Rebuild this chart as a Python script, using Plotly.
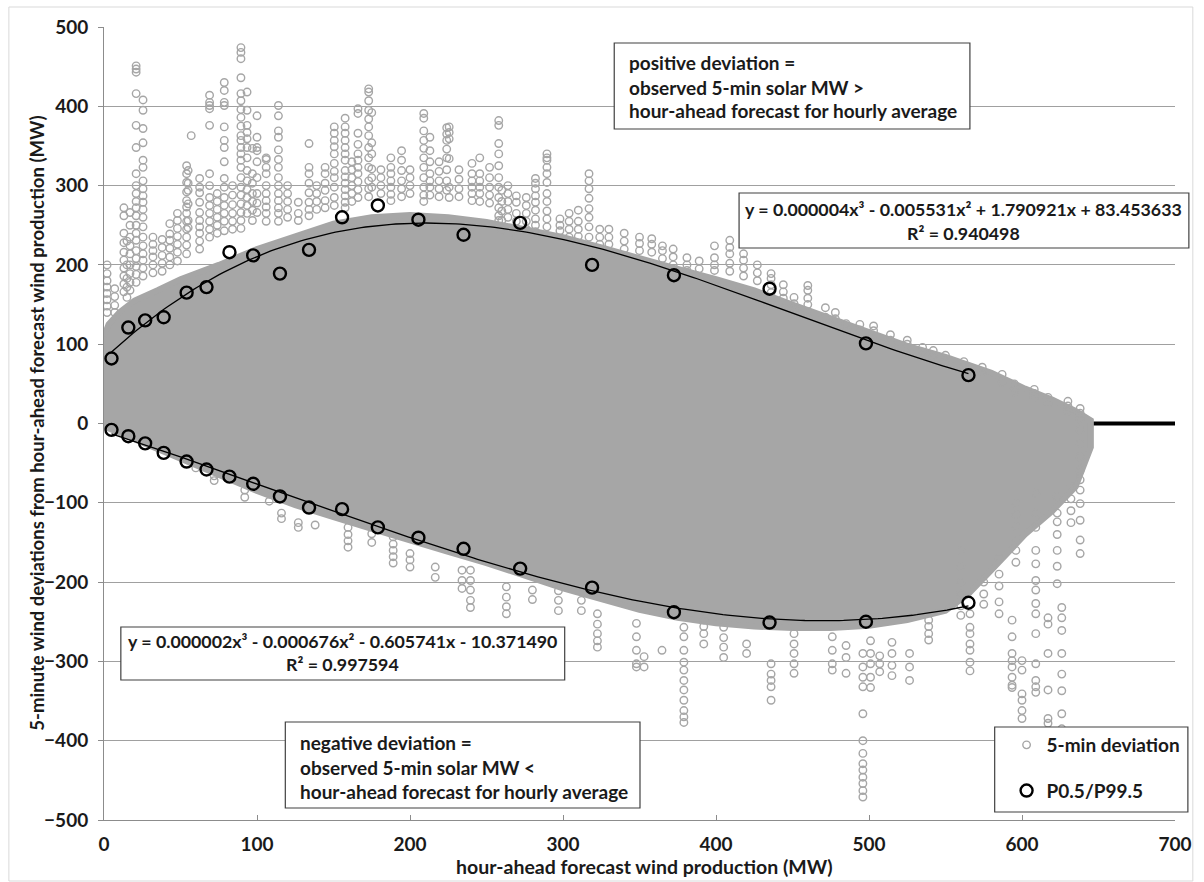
import numpy as np
import plotly.graph_objects as go

# ---------------------------------------------------------------------------
# P0.5 / P99.5 percentile points for each hour-ahead forecast bin (MW)
p_x = [4.9, 15.9, 26.9, 39, 54, 67, 82, 97.5, 115, 134, 155.6, 179,
       205.5, 235, 272, 319, 372.5, 435, 498, 565]
p_hi = [82, 121, 130, 134, 165, 172, 216, 212, 189, 219, 260, 275,
        257, 238, 253, 200, 187, 170, 101, 61]
p_lo = [-8, -16, -25, -37, -48, -58, -67, -76, -92, -106, -108, -131,
        -144, -158, -183, -207, -238, -251, -250, -226]

# Dense body of the 5-min deviation cloud: upper and lower edges (MW)
core_x = [0, 3, 10, 20, 35, 50, 75, 100, 125, 150, 175, 200, 225, 250, 275,
          300, 325, 350, 375, 400, 425, 450, 475, 500, 525, 550, 565, 580,
          602, 620, 635, 645]
core_hi = [110, 125, 140, 155, 168, 182, 200, 220, 236, 252, 260, 263, 260,
           254, 245, 235, 222, 208, 195, 182, 168, 150, 132, 114, 98, 84,
           74, 64, 44, 30, 16, 4]
core_lo = [-2, -6, -12, -20, -33, -45, -65, -85, -103, -118, -133, -148,
           -162, -176, -192, -208, -222, -235, -245, -252, -256, -258,
           -258, -255, -248, -236, -215, -185, -140, -110, -80, -30]

# Sparse 5-min deviations outside the dense body, grouped by forecast level
pos_streaks = [
    (2, [200, 189, 180, 172, 164, 156, 148, 140]),
    (7, [170, 160, 149, 140]),
    (13, [272, 262, 240, 228, 216, 206, 196, 186, 176, 166]),
    (15, [230, 200, 183, 172, 159]),
    (17, [266, 250, 235, 224, 214, 200, 189, 178, 168]),
    (21, [451, 447, 443, 416, 376, 348, 315, 300, 290, 280, 272, 262, 250,
          240, 231, 218, 208, 198, 188, 178]),
    (25.5, [408, 395, 372, 354, 332, 323, 306, 296, 287, 279, 270, 260, 248,
            235, 224, 214, 206, 196, 186]),
    (32, [235, 226, 218, 210, 200, 190]),
    (38, [232, 222, 212, 202, 192]),
    (43, [252, 239, 231, 221, 210, 200]),
    (48, [265, 256, 246, 236, 226, 216, 205]),
    (54, [325, 315, 304, 292, 281, 273, 265, 255, 245, 235, 225, 214]),
    (55, [319, 303, 294, 277, 256, 247]),
    (57, [363]),
    (62.5, [309, 298, 291, 279, 266, 256, 248, 240, 230, 220]),
    (69, [414, 405, 401, 397, 376, 315, 300, 285, 275, 265, 255, 245, 235]),
    (74, [290, 280, 270, 260, 250, 240]),
    (78.6, [430, 420, 405, 401, 374, 357, 348, 330, 309, 298, 285, 275, 265,
            255, 243]),
    (84, [300, 288, 276, 265, 255, 245]),
    (89.5, [474, 468, 460, 436, 416, 407, 396, 386, 375, 363, 357, 348, 340,
            332, 323, 310, 298, 288, 277, 266, 256, 246]),
    (93.5, [418, 395, 376, 367, 359, 348, 335, 319, 306, 295, 285, 275, 265]),
    (97, [347, 315, 303, 290, 280, 269, 256]),
    (100, [388, 361, 348, 344, 330, 310, 290, 278, 266]),
    (106, [335, 333, 323, 315, 300, 290, 281, 273, 265, 255]),
    (114, [401, 388, 369, 361, 345, 333, 323, 310, 300, 290, 281, 272, 265,
           255]),
    (120, [300, 290, 280, 270, 260]),
    (127, [279, 265, 256]),
    (134, [353, 323, 315, 303, 291, 279, 270, 262]),
    (139, [300, 290, 280, 270]),
    (144.5, [323, 315, 303, 294, 281, 272]),
    (150.5, [374, 366, 357, 349, 340, 328, 318, 310, 298, 285, 275]),
    (157.6, [385, 374, 366, 357, 348, 340, 332, 319, 311, 303, 295, 287, 279,
             272]),
    (162, [330, 320, 310, 300, 290, 280]),
    (166, [397, 391, 366, 352, 340, 332, 323, 315, 305, 295, 285]),
    (173, [422, 418, 407, 395, 384, 374, 363, 348, 335, 323, 306, 296, 286]),
    (175, [392, 354, 340, 321, 310, 298]),
    (181, [320, 310, 300, 290]),
    (187.5, [335, 323, 315, 306, 298, 289, 281]),
    (194.5, [344, 332, 319, 306, 296, 286]),
    (200, [320, 310, 300, 290]),
    (209, [391, 385, 369, 357, 347, 335, 323, 310, 298, 288, 280]),
    (213, [361, 344, 330, 315, 306, 298, 288]),
    (219, [330, 318, 306, 296, 286]),
    (224, [373, 365, 357, 346, 335, 320, 306, 294]),
    (225.6, [374, 367, 359, 334, 298, 285]),
    (232, [320, 308, 296, 286]),
    (240.5, [328, 315, 306, 298, 290, 281]),
    (245.6, [335, 315, 306, 298, 290, 280]),
    (252, [323, 310, 298, 288, 278]),
    (258, [382, 376, 353, 340, 325, 310, 298, 285, 272, 262, 256]),
    (260, [294, 280, 268, 256, 243]),
    (264, [300, 290, 280, 270, 260]),
    (269.5, [287, 279, 265, 255, 245, 235]),
    (276, [285, 275, 265, 255, 245]),
    (282, [309, 303, 296, 287, 279, 269, 258, 250, 242]),
    (289.5, [340, 335, 332, 323, 315, 304, 290, 280, 268, 258, 248]),
    (298, [258, 250, 243]),
    (304, [265, 255, 245, 235]),
    (310, [269, 255, 245, 236]),
    (317, [315, 306, 296, 284, 271, 260, 248, 235, 224]),
    (324, [245, 235, 226]),
    (330, [245, 235, 226]),
    (340, [240, 230, 220]),
    (350, [235, 227, 218]),
    (358, [233, 226, 216]),
    (365, [224, 218, 208]),
    (372, [220, 210, 200]),
    (381, [209, 200, 193]),
    (389, [205, 195]),
    (399, [224, 209, 200, 193]),
    (409, [231, 222, 214, 202, 192]),
    (418, [214, 206, 196, 186]),
    (427, [200, 190, 180]),
    (436, [189, 183, 175, 165]),
    (444, [175, 166, 158]),
    (451, [159, 151, 145]),
    (460, [174, 168, 158, 150, 140]),
    (471.5, [146, 134]),
    (478, [140, 132]),
    (485, [126, 117]),
    (494, [125, 118]),
    (503, [123, 117]),
    (514, [112, 105, 100]),
    (525, [105, 100]),
    (535, [96, 90]),
    (542, [92, 86]),
    (550, [86, 79]),
    (562, [78, 72]),
    (574, [71, 65]),
    (587, [62, 52]),
    (595, [50, 44, 40]),
    (608, [43, 38, 33]),
    (617, [33, 26]),
    (630, [28, 22, 16]),
    (638, [19, 13, 6]),
]

neg_streaks = [
    (60, [-56]),
    (72, [-66, -72]),
    (92, [-84, -93]),
    (108, [-98]),
    (116, [-113, -120]),
    (127, [-125, -131]),
    (138, [-128]),
    (159.5, [-131, -140, -148, -156]),
    (175, [-139, -150]),
    (189, [-143, -152, -160, -168, -176]),
    (200, [-164, -172, -181]),
    (216.5, [-181, -194]),
    (234, [-185, -198, -208]),
    (239.5, [-185, -198, -210, -223, -232]),
    (263, [-206, -219, -231, -240]),
    (280, [-210, -222]),
    (297, [-211, -223, -236]),
    (312, [-223, -236]),
    (322.5, [-240, -253, -265, -274, -282]),
    (348, [-252, -269, -286, -303, -307]),
    (353, [-294, -307]),
    (364.7, [-286]),
    (379, [-257, -269, -286, -301, -311, -324, -336, -349, -362, -370, -377]),
    (392, [-248, -256, -265, -278]),
    (405, [-257, -270, -282, -295]),
    (420, [-278, -290]),
    (436, [-303, -316, -324, -332, -349]),
    (451, [-265, -278, -290, -303, -315]),
    (476, [-269, -286, -303, -311]),
    (485, [-280, -295, -315]),
    (496, [-290, -307, -320, -332, -366, -400, -416, -429, -437, -446, -454,
           -463, -471]),
    (501, [-274, -290, -303, -320, -333]),
    (507, [-293, -303, -313]),
    (515, [-276, -290, -305, -318]),
    (526.5, [-290, -307, -324]),
    (539, [-248, -256, -265, -273]),
    (560, [-160, -180, -200, -215, -230, -242]),
    (566, [-240, -257, -265, -278, -286, -301, -312]),
    (575, [-200, -215, -228]),
    (585, [-170, -190, -205, -225, -240]),
    (593.5, [-248, -269, -290, -299, -307, -320, -330, -333]),
    (596, [-101, -115, -130, -148, -160, -175]),
    (600, [-299, -311, -341, -349, -362, -372]),
    (609, [-88, -113, -131, -160, -177, -198, -210, -227, -240, -265, -303,
           -324, -332, -339]),
    (617, [-245, -253, -290, -336, -372, -378]),
    (623, [-92, -113, -124, -140, -160, -180, -202]),
    (626, [-232, -245, -261, -290, -316, -337, -366, -385]),
    (632, [-80, -95, -110, -125]),
    (638, [-8, -25, -42, -59, -71, -84, -101, -122, -147, -164]),
]

x_ticks = [0, 100, 200, 300, 400, 500, 600, 700]
y_ticks = [-500, -400, -300, -200, -100, 0, 100, 200, 300, 400, 500]

# ---------------------------------------------------------------------------
FONT = "Lato"
GRAY = "#a6a6a6"
TXT = "#1a1a1a"

# plot-area geometry in pixels (used to place boxes in paper coordinates)
W, H = 1204, 882
ML, MR, MT, MB = 104, 19, 27, 62
PW, PH = W - ML - MR, H - MT - MB


def px_x(px):
    return (px - ML) / PW


def px_y(py):
    return (H - MB - py) / PH


out_x, out_y = [], []
for sx, ys in pos_streaks + neg_streaks:
    for v in ys:
        out_x.append(sx)
        out_y.append(v)

fig = go.Figure()

# dense body of the deviation cloud
fig.add_trace(go.Scatter(
    x=core_x + core_x[::-1], y=core_hi + core_lo[::-1],
    mode="lines", fill="toself", fillcolor=GRAY,
    line=dict(color=GRAY, width=6), hoverinfo="skip", showlegend=False))

# sparse deviations
fig.add_trace(go.Scatter(
    x=out_x, y=out_y, mode="markers", name="5-min deviation",
    legendgroup="a",
    marker=dict(symbol="circle-open", size=7.5, color=GRAY,
                line=dict(width=1.4))))

# cubic trend lines fitted through the percentile points
for ys in (p_hi, p_lo):
    coef = np.polyfit(p_x, ys, 3)
    xs = np.linspace(min(p_x), max(p_x), 200)
    fig.add_trace(go.Scatter(
        x=xs, y=np.polyval(coef, xs), mode="lines",
        line=dict(color="black", width=1.3), hoverinfo="skip",
        showlegend=False))

# percentile markers (both tails in one series)
fig.add_trace(go.Scatter(
    x=p_x + p_x, y=p_hi + p_lo, mode="markers", name="P0.5/P99.5",
    legendgroup="b",
    marker=dict(symbol="circle-open", size=12, color="black",
                line=dict(width=2.4))))

shapes = [
    # horizontal axis crossing at zero (drawn beneath the points)
    dict(type="line", xref="x", yref="y", x0=0, x1=700, y0=0, y1=0,
         line=dict(color="black", width=4), layer="between"),
    # chart frame
    dict(type="rect", xref="paper", yref="paper",
         x0=px_x(8), x1=px_x(1203), y0=px_y(881), y1=px_y(7),
         line=dict(color="#d9d9d9", width=1), layer="below"),
]

boxes = [
    (619, 43, 978, 129),
    (745, 193, 1199, 248),
    (121, 627, 569, 680),
    (287, 722, 645, 808),
    (1003, 727, 1198, 812),
]
for x0, y0, x1, y1 in boxes:
    shapes.append(dict(type="rect", xref="paper", yref="paper",
                       x0=px_x(x0), x1=px_x(x1), y0=px_y(y1), y1=px_y(y0),
                       fillcolor="white", line=dict(color="#404040", width=1.2),
                       layer="above"))

annotations = []
NOTE_SIZE = 19
EQ_SIZE = 17.8


def add_text(txt, px, py, anchor="left", size=NOTE_SIZE, angle=0):
    annotations.append(dict(
        text=txt, xref="paper", yref="paper", x=px_x(px), y=px_y(py),
        xanchor=anchor, yanchor="middle", showarrow=False, textangle=angle,
        font=dict(family=FONT, size=size, color=TXT, weight="bold")))


add_text("positive deviation =", 632, 62)
add_text("observed 5-min solar MW >", 632, 87)
add_text("hour-ahead forecast for hourly average", 632, 111)

add_text("y = 0.000004x³ - 0.005531x² + 1.790921x + 83.453633", 972, 209,
         "center", EQ_SIZE)
add_text("R² = 0.940498", 972, 233, "center", EQ_SIZE)

add_text("y = 0.000002x³ - 0.000676x² - 0.605741x - 10.371490", 345, 641,
         "center", EQ_SIZE)
add_text("R² = 0.997594", 345, 664, "center", EQ_SIZE)

add_text("negative deviation =", 300, 742)
add_text("observed 5-min solar MW <", 300, 767)
add_text("hour-ahead forecast for hourly average", 300, 791)

# axis titles
add_text("5-minute wind deviations from hour-ahead forecast wind production (MW)",
         36, 423, "center", 18.5, -90)
add_text("hour-ahead forecast wind production (MW)", 650, 866, "center", 19.5)

tick_font = dict(family=FONT, size=19, color=TXT, weight="bold")

fig.update_layout(
    width=W, height=H,
    margin=dict(l=ML, r=MR, t=MT, b=MB, pad=0),
    paper_bgcolor="white", plot_bgcolor="white",
    shapes=shapes, annotations=annotations,
    showlegend=True,
    legend=dict(
        x=px_x(1015), y=px_y(726), xanchor="left", yanchor="top",
        bgcolor="rgba(0,0,0,0)", borderwidth=0,
        font=dict(family=FONT, size=NOTE_SIZE, color=TXT, weight="bold"),
        traceorder="grouped", tracegroupgap=18),
    xaxis=dict(
        range=[0, 700], tickvals=x_ticks, showgrid=False, zeroline=False,
        showline=True, linecolor="#8c8c8c", linewidth=1,
        ticks="inside", ticklen=5, tickcolor="#8c8c8c",
        tickfont=tick_font, ticklabelstandoff=7),
    yaxis=dict(
        range=[-500, 500], tickvals=y_ticks, showgrid=True,
        gridcolor="#a0a0a0", gridwidth=1, zeroline=False,
        showline=True, linecolor="#8c8c8c", linewidth=1,
        ticks="outside", ticklen=5, tickcolor="#8c8c8c",
        tickfont=tick_font, ticklabelstandoff=6),
)

fig.write_html("out.html")
